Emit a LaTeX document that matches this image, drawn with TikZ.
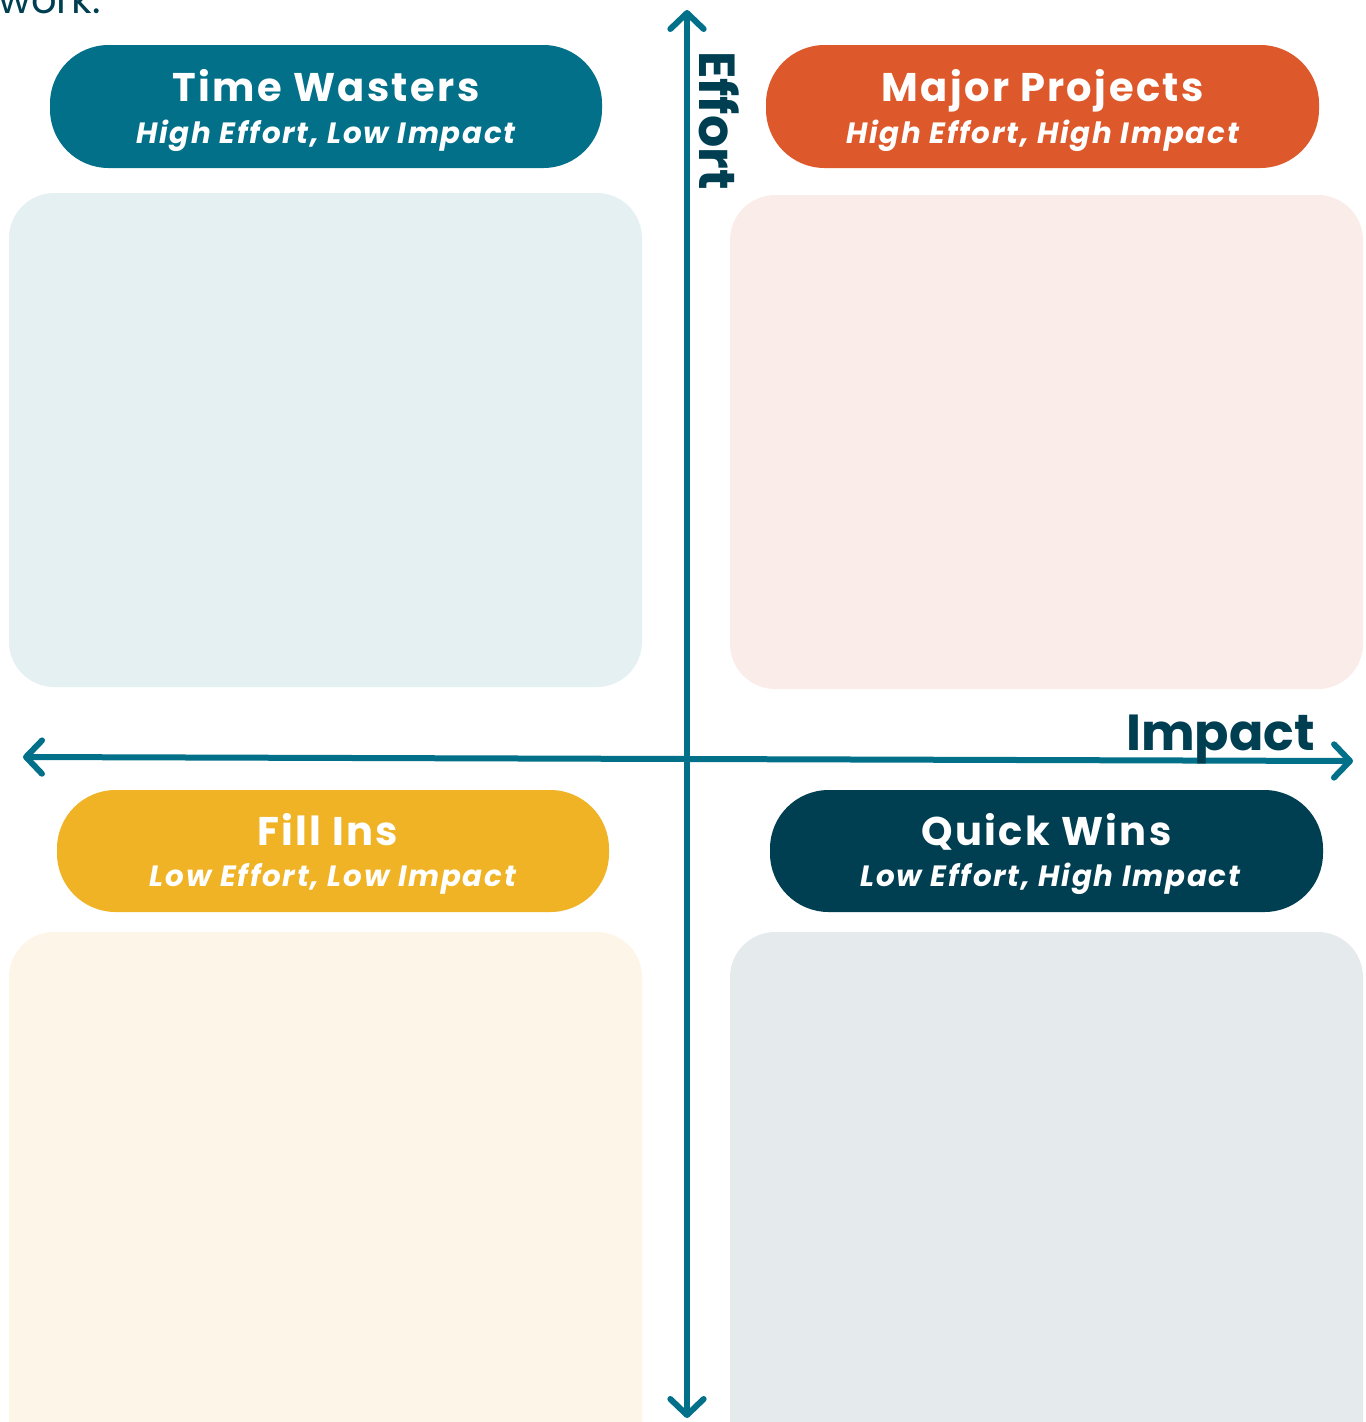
\documentclass[tikz,border=0pt]{standalone}
\usepackage{fontspec}
\setmainfont{Poppins}
\newfontfamily\spaced{Poppins}[LetterSpace=6]
\newfontfamily\subspaced{Poppins}[LetterSpace=6]
\usetikzlibrary{arrows.meta,fit}
\definecolor{teal}{HTML}{03708A}
\definecolor{orng}{HTML}{DD582B}
\definecolor{yell}{HTML}{EFB325}
\definecolor{navy}{HTML}{003F51}
\definecolor{ltteal}{HTML}{E5F0F2}
\definecolor{ltorng}{HTML}{FAECE8}
\definecolor{ltyell}{HTML}{FDF5E8}
\definecolor{ltnavy}{HTML}{E5EAED}
\tikzset{
  pill/.style={draw=none, rectangle, rounded corners=44pt, inner sep=0pt},
  bigbox/.style={draw=none, rectangle, rounded corners=34pt, inner sep=0pt},
  ttl/.style={text=white, inner sep=0pt, anchor=base, font=\spaced\bfseries\fontsize{30}{36}\selectfont},
  sub/.style={text=white, inner sep=0pt, anchor=base, font=\subspaced\bfseries\itshape\fontsize{22}{26}\selectfont},
  axis/.style={draw=teal, line width=4.5pt, line cap=round,
    {Straight Barb[length=12pt,width=25pt,line cap=round,line join=round]}-{Straight Barb[length=12pt,width=25pt,line cap=round,line join=round]}},
  axlabel/.style={text=navy, inner sep=0pt, font=\bfseries}
}
\begin{document}
\begin{tikzpicture}[x=0.75pt,y=-0.75pt]
\clip (0,0) rectangle (1365,1422);
\useasboundingbox (0,0) rectangle (1365,1422);
\fill[white] (0,0) rectangle (1365,1422);
% intro text (cut off at the top edge, as in the reference)
\node[text=navy, inner sep=0pt, anchor=base west, font=\fontsize{30}{34}\selectfont] (work) at (-2,13) {work.};
% light boxes
\node[bigbox, fill=ltteal, fit={(9,193) (642,687)}] (tlbox) {};
\node[bigbox, fill=ltorng, fit={(730,195) (1363,689)}] (trbox) {};
\node[bigbox, fill=ltyell, fit={(9,932) (642,1470)}] (blbox) {};
\node[bigbox, fill=ltnavy, fit={(730,932) (1363,1470)}] (brbox) {};
% pills
\node[pill, fill=teal, fit={(50,45) (602,168)}] (tw) {};
\node[pill, fill=orng, fit={(766,45) (1319,168)}] (mp) {};
\node[pill, fill=yell, fit={(57,790) (609,912)}] (fi) {};
\node[pill, fill=navy, fit={(770,790) (1323,912)}] (qw) {};
% pill texts
\node[ttl] (twt) at ([yshift=3.5pt]tw.center) {Time Wasters};
\node[sub] (tws) at ([yshift=-27.5pt]tw.center) {High Effort, Low Impact};
\node[ttl] (mpt) at ([yshift=3.5pt]mp.center) {Major Projects};
\node[sub] (mps) at ([yshift=-27.5pt]mp.center) {High Effort, High Impact};
\node[ttl] (fit) at ([xshift=-4pt,yshift=4.5pt]fi.center) {Fill Ins};
\node[sub] (fis) at ([yshift=-26.5pt]fi.center) {Low Effort, Low Impact};
\node[ttl] (qwt) at ([yshift=4.5pt]qw.center) {Quick Wins};
\node[sub] (qws) at ([xshift=3pt,yshift=-26.5pt]qw.center) {Low Effort, High Impact};
% axes
\coordinate (vtop) at (687,10);
\coordinate (vbot) at (687,1418);
\coordinate (hl) at (23,757);
\coordinate (hr) at (1353,761);
\draw[axis] (vbot) -- (vtop);
\draw[axis] (hl) -- (hr);
% axis labels
\node[axlabel, rotate=-90, anchor=base west, font=\bfseries\fontsize{38}{42}\selectfont] (effort) at (699,51) {Effort};
\node[axlabel, anchor=base west, font=\bfseries\fontsize{38}{44}\selectfont] (impact) at (1126,750) {Impact};
\end{tikzpicture}
\end{document}
